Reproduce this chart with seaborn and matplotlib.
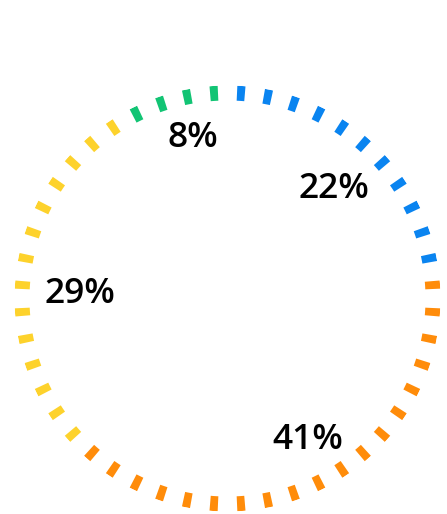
import numpy as np
import matplotlib
matplotlib.use("Agg")
import matplotlib.pyplot as plt
import seaborn as sns

# Share of each category (percent), clockwise from 12 o'clock
categories = ["Blue", "Orange", "Yellow", "Green"]
shares = [22, 41, 29, 8]
colors = ["#0a84f0", "#ff8c0a", "#fdd22c", "#12c474"]
labels = ["22%", "41%", "29%", "8%"]

# Small per-label nudges (pixels, right / up) to keep labels clear of the ring
label_nudge = [(6.5, -10.5), (9.5, -2.5), (7, -19.5), (4, 9)]

sns.set_theme(style="white")
plt.rcParams["font.family"] = ["Open Sans", "DejaVu Sans"]

W, H, DPI = 447, 514, 100
fig = plt.figure(figsize=(W / DPI, H / DPI), dpi=DPI)
fig.patch.set_facecolor("white")

cx, cy, R = 227.5, 298.5, 213.0
ax = fig.add_axes([(cx - R) / W, (H - cy - R) / H, 2 * R / W, 2 * R / H],
                  projection="polar")
ax.set_theta_zero_location("N")
ax.set_theta_direction(-1)
ax.set_ylim(0, R)
ax.set_axis_off()

# Dashed ring: evenly spaced ticks, each coloured by the share it falls in
n_dash = 48
step = 2 * np.pi / n_dash
dash_theta = step / 2 + step * np.arange(n_dash)
bounds = np.cumsum(shares) / np.sum(shares) * 2 * np.pi
seg_idx = np.searchsorted(bounds, dash_theta)
ring_in, ring_w = 198.0, 15.0
dash_w = np.deg2rad(2.2)
ax.bar(dash_theta, ring_w, width=dash_w, bottom=ring_in,
       color=[colors[i] for i in seg_idx], edgecolor="none", align="center")

# Percentage labels at the middle of each share
starts = np.concatenate([[0], bounds[:-1]])
mids = (starts + bounds) / 2
for ang, lab, nud in zip(mids, labels, label_nudge):
    ax.annotate(lab, xy=(ang, 156), xytext=nud, textcoords="offset pixels",
                ha="center", va="center", fontsize=25.5,
                fontweight="semibold", color="#000000")

fig.savefig("out.png", dpi=DPI, facecolor="white")
